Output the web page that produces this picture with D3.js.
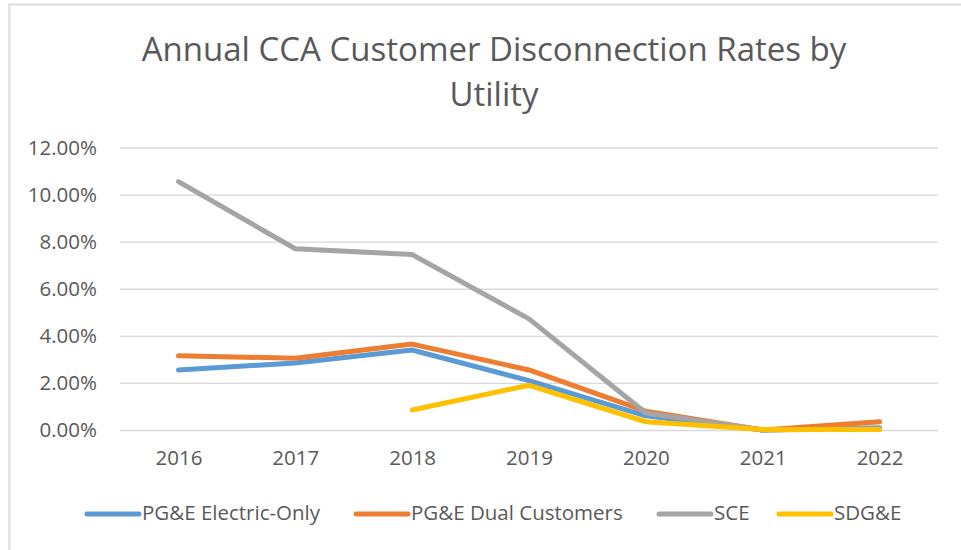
<!DOCTYPE html>
<html><head><meta charset="utf-8">
<script src="https://cdn.jsdelivr.net/npm/d3@7"></script>
<style>body{margin:0;background:#fff;} svg{display:block;}</style>
</head><body>
<svg id="chart" width="961" height="550"></svg>
<script>
const years = ["2016","2017","2018","2019","2020","2021","2022"];
const yTicks = [0, 0.02, 0.04, 0.06, 0.08, 0.10, 0.12];
const seriesNames = ["PG&E Electric-Only", "PG&E Dual Customers", "SCE", "SDG&E"];
const pgeElectricOnly = [0.0255, 0.0285, 0.0340, 0.0210, 0.0060, 0.0000, 0.0010];
const pgeDual        = [0.0315, 0.0305, 0.0365, 0.0255, 0.0080, 0.0000, 0.0035];
const sce            = [0.1055, 0.0770, 0.0745, 0.0472, 0.0072, 0.0000, 0.0005];
const sdge           = [null, null, 0.0085, 0.0190, 0.0035, 0.0002, 0.0002];
const colors = ["#5B9BD5", "#ED7D31", "#A5A5A5", "#FFC000"];

const svg = d3.select("#chart");
// border
svg.append("path").attr("d","M9.3,560 L9.3,4.5 L961,4.5").attr("fill","none").attr("stroke","#e3e3e3").attr("stroke-width",2.5);

const x = d3.scalePoint().domain(years).range([120, 938]).padding(0.5);
const y = d3.scaleLinear().domain([0, 0.12]).range([430, 147.5]);

const font = "'Open Sans', 'Liberation Sans', sans-serif";
// title
const title = svg.append("text").attr("text-anchor","middle").attr("fill","#595959")
  .attr("font-family", font).attr("font-size", 33);
title.append("tspan").attr("x", 494).attr("y", 61).text("Annual CCA Customer Disconnection Rates by");
title.append("tspan").attr("x", 494).attr("y", 106).text("Utility");

// grid
const yAxis = d3.axisLeft(y).tickValues(yTicks).tickSize(-(938-120)).tickFormat(d3.format(".2%")).tickPadding(23);
const gy = svg.append("g").attr("transform","translate(120,0)").call(yAxis);
gy.select(".domain").remove();
gy.selectAll(".tick line").attr("stroke","#d9d9d9").attr("stroke-width",1.3);
gy.selectAll(".tick text").attr("fill","#595959").attr("font-family",font).attr("font-size",20.5);

const xAxis = d3.axisBottom(x).tickSize(0).tickPadding(20);
const gx = svg.append("g").attr("transform","translate(0,430)").call(xAxis);
gx.select(".domain").remove();
gx.selectAll(".tick text").attr("fill","#595959").attr("font-family",font).attr("font-size",20.5);

const data = [pgeElectricOnly, pgeDual, sce, sdge];
const line = d3.line().defined(d => d.v !== null).x(d => x(d.year)).y(d => y(d.v));
data.forEach((vals, i) => {
  svg.append("path")
    .datum(years.map((yr, j) => ({year: yr, v: vals[j]})))
    .attr("d", line).attr("fill","none").attr("stroke", colors[i])
    .attr("stroke-width", 5).attr("stroke-linejoin","round").attr("stroke-linecap","round");
});

// legend
const legX = [87, 356, 659, 779];
seriesNames.forEach((name, i) => {
  const g = svg.append("g").attr("transform", `translate(${legX[i]},514)`);
  g.append("line").attr("x1",0).attr("x2",52).attr("y1",0).attr("y2",0)
    .attr("stroke", colors[i]).attr("stroke-width",5).attr("stroke-linecap","round");
  g.append("text").attr("x",55).attr("y",5.5).attr("fill","#595959")
    .attr("font-family",font).attr("font-size",20.5).text(name);
});
</script>
</body></html>
